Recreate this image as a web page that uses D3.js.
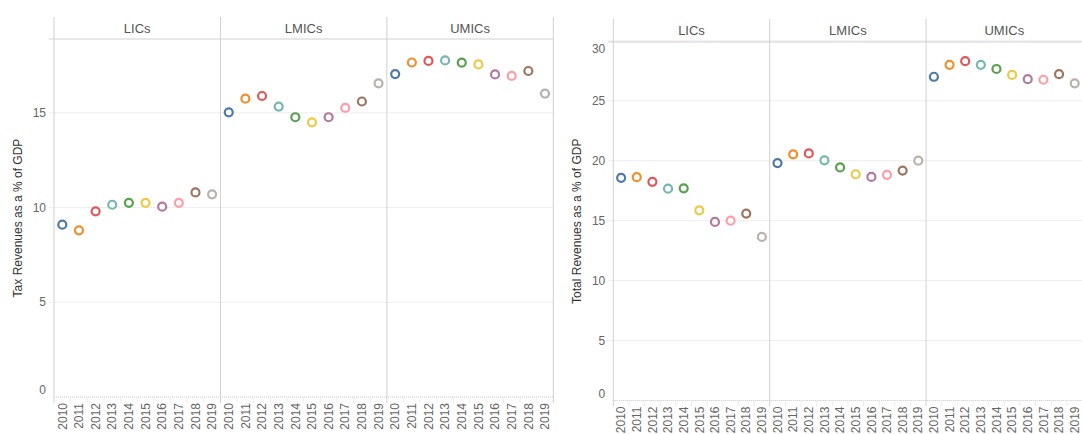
<!DOCTYPE html>
<html>
<head>
<meta charset="utf-8">
<script src="https://cdn.jsdelivr.net/npm/d3@7"></script>
<style>
  body { margin: 0; background: #fff; }
  svg { display: block; font-family: "Liberation Sans", Arial, sans-serif; }
</style>
</head>
<body>
<svg id="chart" width="1082" height="434"></svg>
<script>
// data
var years = ['2010','2011','2012','2013','2014','2015','2016','2017','2018','2019'];
var groups = ['LICs','LMICs','UMICs'];
var yearColors = ['#4e79a7','#f28e2b','#e15759','#76b7b2','#59a14f','#edc948','#b07aa1','#ff9da7','#9c755f','#bab0ac'];

var taxLICs  = [9.1, 8.8, 9.8, 10.15, 10.25, 10.25, 10.05, 10.25, 10.8, 10.7];
var taxLMICs = [15.03, 15.75, 15.89, 15.33, 14.77, 14.5, 14.77, 15.26, 15.6, 16.56];
var taxUMICs = [17.05, 17.66, 17.74, 17.77, 17.65, 17.56, 17.03, 16.95, 17.21, 16.02];

var totLICs  = [18.57, 18.63, 18.24, 17.67, 17.7, 15.86, 14.89, 15.0, 15.59, 13.64];
var totLMICs = [19.8, 20.53, 20.61, 20.03, 19.44, 18.87, 18.65, 18.82, 19.18, 20.0];
var totUMICs = [27.0, 28.0, 28.3, 28.0, 27.65, 27.15, 26.8, 26.75, 27.22, 26.45];

var taxTicks = [0, 5, 10, 15];
var totTicks = [0, 5, 10, 15, 20, 25, 30];

var svg = d3.select('#chart');

function drawPanelChart(opt) {
	var g = svg.append('g');
	var x0 = opt.left, x1 = opt.right, top = opt.top, head = opt.head, bottom = opt.bottom;

	var xGroup = d3.scaleBand().domain(groups).range([x0, x1]);
	var xYear = d3.scaleBand().domain(years).range([0, xGroup.bandwidth()]);
	var y = d3.scaleLinear().domain(opt.domain).range([bottom, head]);

	// gridlines + ticks
	g.selectAll('.grid').data(opt.ticks.filter(function(t){ return t > 0; }))
		.enter().append('line')
		.attr('x1', x0 - 5).attr('x2', x1)
		.attr('y1', function(d){ return y(d); }).attr('y2', function(d){ return y(d); })
		.attr('stroke', '#eeeeee').attr('stroke-width', 1);

	g.selectAll('.ytick').data(opt.ticks)
		.enter().append('text')
		.attr('x', x0 - 8)
		.attr('y', function(d){ return Math.max(head + 7, Math.min(bottom - 7, y(d))); })
		.attr('dy', '0.35em')
		.attr('text-anchor', 'end')
		.attr('font-size', 12)
		.attr('fill', '#666')
		.text(function(d){ return d; });

	// y title
	g.append('text')
		.attr('transform', 'translate(' + opt.titleX + ',' + ((head + bottom) / 2) + ') rotate(-90)')
		.attr('text-anchor', 'middle')
		.attr('dy', '0.35em')
		.attr('font-size', 12)
		.attr('fill', '#333')
		.text(opt.title);

	// header line
	g.append('line')
		.attr('x1', x0 - 5).attr('x2', x1)
		.attr('y1', head).attr('y2', head)
		.attr('stroke', '#d0d0d0');

	// panel dividers
	var edges = groups.map(function(d){ return xGroup(d); }).concat([x1]);
	g.selectAll('.div').data(edges)
		.enter().append('line')
		.attr('x1', function(d){ return d; }).attr('x2', function(d){ return d; })
		.attr('y1', top).attr('y2', bottom + 6)
		.attr('stroke', '#d0d0d0');

	// headers
	g.selectAll('.head').data(groups)
		.enter().append('text')
		.attr('x', function(d){ return xGroup(d) + xGroup.bandwidth() / 2; })
		.attr('y', (top + head) / 2)
		.attr('dy', '0.35em')
		.attr('text-anchor', 'middle')
		.attr('font-size', 13)
		.attr('fill', '#555')
		.text(function(d){ return d; });

	// x axis line (dotted)
	g.append('line')
		.attr('x1', x0).attr('x2', x1)
		.attr('y1', bottom).attr('y2', bottom)
		.attr('stroke', '#c8c8c8')
		.attr('stroke-dasharray', '1,1');

	groups.forEach(function(grp, gi) {
		var gx = xGroup(grp);
		var vals = opt.series[gi];

		// band separators
		g.selectAll('.sep' + gi).data(years.slice(1))
			.enter().append('line')
			.attr('x1', function(d){ return gx + xYear(d); })
			.attr('x2', function(d){ return gx + xYear(d); })
			.attr('y1', bottom).attr('y2', bottom + 6)
			.attr('stroke', '#ececec');

		// year labels
		g.selectAll('.yr' + gi).data(years)
			.enter().append('text')
			.attr('transform', function(d){
				return 'translate(' + (gx + xYear(d) + xYear.bandwidth() / 2) + ',' + (bottom + 6) + ') rotate(-90)';
			})
			.attr('text-anchor', 'end')
			.attr('dy', '0.35em')
			.attr('font-size', 12)
			.attr('fill', '#666')
			.text(function(d){ return d; });

		// points
		g.selectAll('.pt' + gi).data(vals)
			.enter().append('circle')
			.attr('cx', function(d, i){ return gx + xYear(years[i]) + xYear.bandwidth() / 2; })
			.attr('cy', function(d){ return y(d); })
			.attr('r', 4)
			.attr('fill', '#fff')
			.attr('stroke', function(d, i){ return yearColors[i]; })
			.attr('stroke-width', 2.2);
	});
}

drawPanelChart({
	left: 54, right: 553.3, top: 17, head: 39, bottom: 397,
	domain: [0, 18.9], ticks: taxTicks, titleX: 18,
	title: 'Tax Revenues as a % of GDP',
	series: [taxLICs, taxLMICs, taxUMICs]
});

drawPanelChart({
	left: 613.3, right: 1082.5, top: 19, head: 42, bottom: 400.5,
	domain: [0, 29.9], ticks: totTicks, titleX: 577,
	title: 'Total Revenues as a % of GDP',
	series: [totLICs, totLMICs, totUMICs]
});
</script>
</body>
</html>
